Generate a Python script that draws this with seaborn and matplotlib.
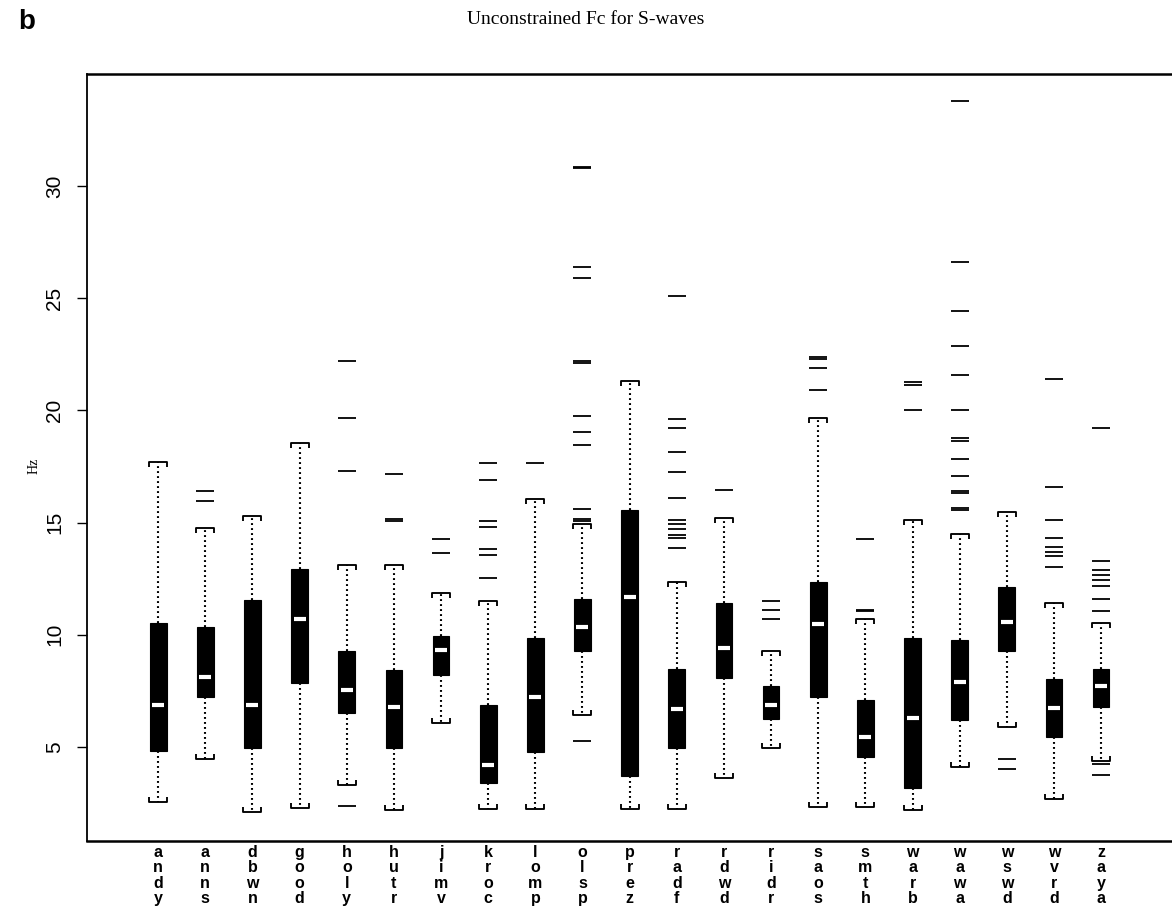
import matplotlib
matplotlib.use("Agg")
import matplotlib.pyplot as plt
from matplotlib.path import Path
import pandas as pd
import seaborn as sns

# Corner-frequency summaries (Hz) for each station
stations = ["andy", "anns", "dbwn", "good", "holy", "hutr", "jimv", "kroc", "lomp", "olsp",
            "prez", "radf", "rdwd", "ridr", "saos", "smth", "warb", "wawa", "wswd", "wvrd", "zaya"]
whisker_low = [2.55, 4.45, 2.10, 2.25, 3.31, 2.16, 6.07, 2.24, 2.24, 6.42,
               2.24, 2.24, 3.61, 4.96, 2.31, 2.31, 2.16, 4.10, 5.87, 2.69, 4.35]
quartile1 = [4.82, 7.24, 4.96, 7.84, 6.49, 4.96, 8.21, 3.40, 4.78, 9.28,
             3.69, 4.96, 8.06, 6.22, 7.21, 4.55, 3.16, 6.19, 9.28, 5.45, 6.79]
medians = [6.87, 8.10, 6.87, 10.72, 7.54, 6.76, 9.33, 4.21, 7.24, 10.33,
           11.69, 6.70, 9.39, 6.87, 10.49, 5.42, 6.30, 7.88, 10.57, 6.72, 7.69]
quartile3 = [10.52, 10.33, 11.54, 12.94, 9.27, 8.43, 9.96, 6.87, 9.84, 11.61,
             15.55, 8.48, 11.39, 7.73, 12.34, 7.09, 9.84, 9.78, 12.13, 8.01, 8.49]
whisker_high = [17.69, 14.75, 15.30, 18.55, 13.10, 13.10, 11.84, 11.49, 16.07, 14.93,
                21.29, 12.34, 15.22, 9.25, 19.65, 10.72, 15.10, 14.48, 15.45, 11.42, 10.52]
outliers = [
    [],
    [16.39, 15.97],
    [],
    [],
    [22.20, 19.65, 17.28, 2.34],
    [17.16, 15.15, 15.08],
    [14.28, 13.66],
    [17.66, 16.91, 15.07, 14.82, 13.81, 13.54, 12.54],
    [17.66],
    [30.86, 30.80, 26.40, 25.90, 22.20, 22.10, 19.75, 19.05, 18.45, 15.60, 15.15, 15.05, 5.27],
    [],
    [25.10, 19.60, 19.20, 18.15, 17.25, 16.10, 15.10, 14.95, 14.70, 14.45, 14.30, 13.85],
    [16.46],
    [11.49, 11.12, 10.72],
    [22.40, 22.30, 21.90, 20.90],
    [14.28, 11.12, 11.06],
    [21.27, 21.12, 20.00],
    [33.80, 26.60, 24.45, 22.85, 21.60, 20.00, 18.75, 18.65, 17.84, 17.09, 16.42, 16.32, 15.67, 15.55],
    [4.45, 4.00],
    [21.40, 16.60, 15.10, 14.30, 13.90, 13.70, 13.50, 13.00],
    [19.21, 13.28, 12.88, 12.64, 12.42, 12.16, 11.61, 11.04, 4.25, 3.73],
]
y_ticks = [5, 10, 15, 20, 25, 30]

sns.set_theme(style="ticks")
plt.rcParams["font.family"] = ["Liberation Sans", "DejaVu Sans"]
plt.rcParams["axes.edgecolor"] = "black"
plt.rcParams["text.color"] = "black"
plt.rcParams["axes.labelcolor"] = "black"
plt.rcParams["xtick.color"] = "black"
plt.rcParams["ytick.color"] = "black"

fig = plt.figure(figsize=(11.72, 9.15), dpi=100)
ax = fig.add_axes([86.5 / 1172, 74 / 915, 1124 / 1172, 767 / 915])

positions = list(range(len(stations)))
stats = [
    dict(label=s, whislo=lo, q1=a, med=m, q3=b, whishi=hi, fliers=[])
    for s, lo, a, m, b, hi in zip(stations, whisker_low, quartile1, medians, quartile3, whisker_high)
]
ax.bxp(
    stats, positions=positions, widths=0.355, patch_artist=True,
    showcaps=False, showfliers=False, manage_ticks=False,
    boxprops=dict(facecolor="black", edgecolor="black", linewidth=0.8),
    whiskerprops=dict(color="black", linestyle=(0, (0.9, 1.5)), linewidth=1.5),
    medianprops=dict(linewidth=0),
)

# Bracket-shaped whisker ends, opening toward the box
upper_cap = Path([(-1, -0.6), (-1, 0), (1, 0), (1, -0.6)],
                 [Path.MOVETO, Path.LINETO, Path.LINETO, Path.LINETO])
lower_cap = Path([(-1, 0.6), (-1, 0), (1, 0), (1, 0.6)],
                 [Path.MOVETO, Path.LINETO, Path.LINETO, Path.LINETO])
ax.plot(positions, whisker_high, linestyle="none", marker=upper_cap, markersize=12.5,
        markerfacecolor="none", markeredgecolor="black", markeredgewidth=1.35, zorder=3)
ax.plot(positions, whisker_low, linestyle="none", marker=lower_cap, markersize=12.5,
        markerfacecolor="none", markeredgecolor="black", markeredgewidth=1.35, zorder=3)

# White median bars
sns.scatterplot(x=positions, y=medians, marker="_", s=8.5 ** 2, color="white",
                linewidth=3.0, zorder=4, ax=ax, legend=False)

# Outlying values drawn as short horizontal dashes
out_df = pd.DataFrame(
    [(i, v) for i, vals in enumerate(outliers) for v in vals], columns=["station", "hz"]
)
sns.scatterplot(data=out_df, x="station", y="hz", marker="_", s=12.5 ** 2, color="black",
                linewidth=1.3, zorder=3, ax=ax, legend=False)

ax.set_xlim(-1.52, 22.32)
ax.set_ylim(0.8, 35.0)
ax.set_xlabel("")
ax.set_ylabel("")

ax.set_yticks(y_ticks)
ax.set_yticklabels([str(t) for t in y_ticks], fontsize=15, rotation=90, va="center")
ax.tick_params(axis="y", direction="out", length=7, width=1.0, pad=9)

ax.set_xticks(positions)
ax.set_xticklabels(["\n".join(s) for s in stations], fontsize=11.5, fontweight="bold",
                   linespacing=1.02, va="top")
ax.tick_params(axis="x", length=0, pad=3)

ax.spines["left"].set_linewidth(1.3)
ax.spines["top"].set_linewidth(1.8)
ax.spines["bottom"].set_linewidth(1.8)
ax.spines["right"].set_visible(False)

fig.text(0.5, 1 - 20 / 915, "Unconstrained Fc for S-waves", family="Liberation Serif",
         fontsize=14, ha="center", va="center")
fig.text(18 / 1172, 1 - 22 / 915, "b", fontsize=20, fontweight="bold", ha="left", va="center")
fig.text(34 / 1172, 1 - 466 / 915, "Hz", family="Liberation Serif", fontsize=10,
         rotation=90, ha="center", va="center")

fig.savefig("out.png", dpi=100)
